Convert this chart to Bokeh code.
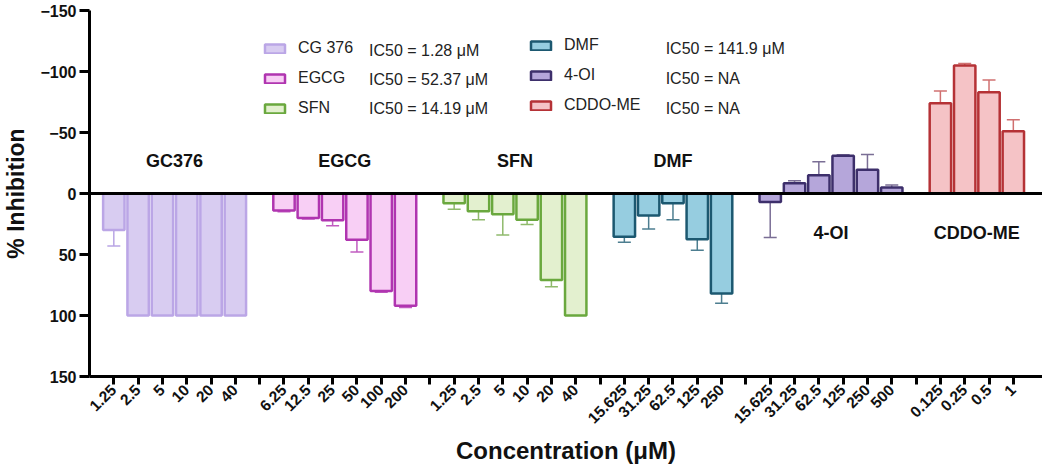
import numpy as np
from bokeh.plotting import figure
from bokeh.models import (Range1d, FixedTicker, Span, Whisker, TeeHead, ColumnDataSource,
                          Legend, LegendItem, Label)
from bokeh.core.properties import value
from bokeh.embed import file_html
from bokeh.resources import INLINE

# ---------------- data ----------------
compounds = ["GC376", "EGCG", "SFN", "DMF", "4-OI", "CDDO-ME"]
legend_names = ["CG 376", "EGCG", "SFN", "DMF", "4-OI", "CDDO-ME"]
ic50_texts = ["IC50 = 1.28 \u03bcM", "IC50 = 52.37 \u03bcM", "IC50 = 14.19 \u03bcM",
              "IC50 = 141.9 \u03bcM", "IC50 = NA", "IC50 = NA"]

conc_gc376 = ["1.25", "2.5", "5", "10", "20", "40"]
conc_egcg = ["6.25", "12.5", "25", "50", "100", "200"]
conc_sfn = ["1.25", "2.5", "5", "10", "20", "40"]
conc_dmf = ["15.625", "31.25", "62.5", "125", "250"]
conc_4oi = ["15.625", "31.25", "62.5", "125", "250", "500"]
conc_cddo = ["0.125", "0.25", "0.5", "1"]

inh_gc376 = [30, 100, 100, 100, 100, 100]
err_gc376 = [13, 0, 0, 0, 0, 0]
inh_egcg = [14, 20, 22, 38, 80, 92]
err_egcg = [1, 1, 4.5, 10, 1, 1.5]
inh_sfn = [8, 14.5, 17, 21.5, 71, 100]
err_sfn = [5, 7, 17, 4, 5.5, 0]
inh_dmf = [35.5, 18, 8, 37.5, 82]
err_dmf = [4.5, 11, 13.5, 9, 8]
inh_4oi = [7, -8.5, -15, -31, -19.5, -5]
err_4oi = [29, 2, 11, 0.8, 12.5, 2]
inh_cddo = [-74, -105, -83, -51]
err_cddo = [10, 1.5, 10, 9.5]

concs = [conc_gc376, conc_egcg, conc_sfn, conc_dmf, conc_4oi, conc_cddo]
inhs = [inh_gc376, inh_egcg, inh_sfn, inh_dmf, inh_4oi, inh_cddo]
errs = [err_gc376, err_egcg, err_sfn, err_dmf, err_4oi, err_cddo]

# ---------------- styles ----------------
fills = ["#d8ccf1", "#f8cff5", "#e3f0cf", "#96cde0", "#b5a6da", "#f5c3c6"]
lines = ["#bba6e6", "#b035b0", "#6aa83e", "#1c5870", "#3d2f6b", "#b53236"]
err_colors = ["#b9a5e5", "#c15cc0", "#8fba6c", "#4d7e90", "#7a6e95", "#d07070"]
label_above = [True, True, True, True, False, False]
FONT = "Liberation Sans"

p = figure(width=1042, height=467, x_range=Range1d(0, 39.2), y_range=Range1d(150, -150),
           output_backend="svg", toolbar_location=None,
           min_border_left=83, min_border_right=0, min_border_top=10, min_border_bottom=89)
p.outline_line_color = None
p.grid.visible = False
p.background_fill_color = "white"

# positions: groups separated by one empty slot
tick_lab = {}
pos = 1
group_x = []
renderers = []
for gi, c in enumerate(concs):
    xs = list(range(pos, pos + len(c)))
    for x, lab in zip(xs, c):
        tick_lab[x] = lab
    group_x.append(xs)
    pos += len(c)
    if gi < len(concs) - 1:
        tick_lab[pos] = ""
        pos += 1

for gi in range(len(concs)):
    xs = group_x[gi]
    v = inhs[gi]
    e = errs[gi]
    src = ColumnDataSource(dict(x=xs, top=v))
    r = p.vbar(x="x", top="top", bottom=0, width=0.88, source=src,
               fill_color=fills[gi], line_color=lines[gi], line_width=2.5)
    renderers.append(r)
    wx, lo, up = [], [], []
    for x, val, er in zip(xs, v, e):
        if er > 0:
            s = 1 if val >= 0 else -1
            wx.append(x)
            lo.append(val)
            up.append(val + s * er)
    wsrc = ColumnDataSource(dict(base=wx, lower=lo, upper=up))
    w = Whisker(base="base", lower="lower", upper="upper", source=wsrc,
                line_color=err_colors[gi], line_width=1.5,
                upper_head=TeeHead(size=13, line_color=err_colors[gi], line_width=1.5),
                lower_head=None)
    p.add_layout(w)
    # group label
    cx = (xs[0] + xs[-1]) / 2.0
    ly = -27 if label_above[gi] else 32
    p.text(x=[cx], y=[ly], text=[compounds[gi]], text_align="center", text_baseline="middle",
           text_font=value(FONT), text_font_style="bold", text_font_size="18px", text_color="#111111")

p.add_layout(Span(location=0, dimension="width", line_color="black", line_width=3))

# axes
for ax in (p.xaxis[0], p.yaxis[0]):
    ax.axis_line_width = 3
    ax.axis_line_color = "black"
    ax.major_tick_line_width = 3
    ax.major_tick_line_color = "black"
    ax.major_tick_in = 0
    ax.minor_tick_in = 0
    ax.minor_tick_out = 0
    ax.major_label_text_font = FONT
    ax.major_label_text_font_style = "bold"
    ax.major_label_text_color = "#111111"
    ax.axis_label_text_font = FONT
    ax.axis_label_text_font_style = "bold"
    ax.axis_label_text_color = "#111111"

p.yaxis.ticker = FixedTicker(ticks=[-150, -100, -50, 0, 50, 100, 150])
p.yaxis.major_tick_out = 10
p.yaxis.major_label_text_font_size = "16px"
p.yaxis.major_label_standoff = 3
p.yaxis.axis_label = "% Inhibition"
p.yaxis.axis_label_text_font_size = "23px"
p.yaxis.axis_label_standoff = 8

p.xaxis.ticker = FixedTicker(ticks=sorted(tick_lab.keys()))
p.xaxis.major_label_overrides = tick_lab
p.xaxis.major_label_orientation = np.pi / 4
p.xaxis.major_tick_out = 8
p.xaxis.major_label_text_font_size = "15.5px"
p.xaxis.major_label_standoff = 3
p.xaxis.axis_label = "Concentration (\u03bcM)"
p.xaxis.axis_label_text_font_size = "24px"
p.xaxis.axis_label_standoff = 6

# legends (two columns); rows a touch higher in the right column
def make_legend(idx, xloc, yloc):
    items = [LegendItem(label=legend_names[i], renderers=[renderers[i]]) for i in idx]
    lg = Legend(items=items, location=(xloc, yloc), orientation="vertical",
                glyph_width=25, glyph_height=11, label_height=20, spacing=10,
                label_standoff=11, padding=0, margin=0,
                border_line_color=None, background_fill_alpha=0,
                label_text_font=FONT, label_text_font_size="16px", label_text_color="#222222")
    return lg

p.add_layout(make_legend([0, 1, 2], 173, 258))
p.add_layout(make_legend([3, 4, 5], 439, 261))

ic50_x = [11.5, 11.5, 11.5, 23.7, 23.7, 23.7]
ic50_y = [-117.5, -93.5, -69.5, -119.0, -94.5, -70.0]
for i in range(6):
    p.add_layout(Label(x=ic50_x[i], y=ic50_y[i], text=ic50_texts[i], text_baseline="middle",
                       text_font=FONT, text_font_size="16px", text_color="#222222"))

open("out.html", "w").write(file_html(p, INLINE))
